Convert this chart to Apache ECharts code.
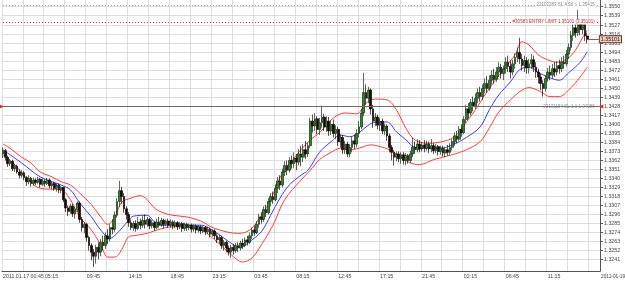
<!DOCTYPE html>
<html>
<head>
<meta charset="utf-8">
<script src="https://cdn.jsdelivr.net/npm/echarts@6/dist/echarts.min.js"></script>
<style>
  html, body { margin: 0; padding: 0; background: #fff; }
  #chart { width: 625px; height: 283px; }
</style>
</head>
<body>
<div id="chart"></div>
<script>
// EURUSD M15, 2011.01.17 00:45 .. 2011.01.19 15:30
const slotCount = 257; // 252 bars + chart shift on the right

const xTickLabels = ['2011.01.17 00:45', '05:15', '09:45', '14:15', '18:45', '23:15', '03:45',
    '08:15', '12:45', '17:15', '21:45', '02:15', '06:45', '11:15'];

const yTicks = [1.3241, 1.3252, 1.3263, 1.3274, 1.3285, 1.3296, 1.3307, 1.3318, 1.3329, 1.3340,
    1.3351, 1.3362, 1.3373, 1.3384, 1.3395, 1.3406, 1.3417, 1.3428, 1.3439, 1.3450, 1.3461,
    1.3472, 1.3483, 1.3494, 1.3505, 1.3516, 1.3527, 1.3539, 1.3550];

// [open, close, low, high]
const ohlc = [
    [1.3370, 1.3374, 1.3365, 1.3378], [1.3374, 1.3366, 1.3362, 1.3376], [1.3366, 1.3358, 1.3354, 1.3368],
    [1.3358, 1.3361, 1.3355, 1.3364], [1.3361, 1.3352, 1.3349, 1.3363], [1.3352, 1.3355, 1.3348, 1.3358],
    [1.3355, 1.3348, 1.3346, 1.3357], [1.3348, 1.3344, 1.3340, 1.3351], [1.3344, 1.3347, 1.3341, 1.3350],
    [1.3347, 1.3341, 1.3338, 1.3349], [1.3341, 1.3336, 1.3331, 1.3343], [1.3336, 1.3340, 1.3333, 1.3344],
    [1.3340, 1.3334, 1.3330, 1.3342], [1.3334, 1.3338, 1.3331, 1.3341], [1.3338, 1.3335, 1.3332, 1.3340],
    [1.3335, 1.3339, 1.3333, 1.3342], [1.3339, 1.3333, 1.3329, 1.3341], [1.3333, 1.3337, 1.3331, 1.3340],
    [1.3337, 1.3334, 1.3330, 1.3339], [1.3334, 1.3338, 1.3332, 1.3341], [1.3338, 1.3331, 1.3328, 1.3340],
    [1.3331, 1.3334, 1.3327, 1.3336], [1.3334, 1.3328, 1.3325, 1.3336], [1.3328, 1.3332, 1.3324, 1.3334],
    [1.3332, 1.3326, 1.3322, 1.3334], [1.3326, 1.3329, 1.3322, 1.3331], [1.3329, 1.3314, 1.3311, 1.3330],
    [1.3314, 1.3304, 1.3299, 1.3316], [1.3304, 1.3300, 1.3294, 1.3307], [1.3300, 1.3306, 1.3297, 1.3309],
    [1.3306, 1.3297, 1.3293, 1.3309], [1.3297, 1.3302, 1.3291, 1.3305], [1.3302, 1.3310, 1.3299, 1.3312],
    [1.3310, 1.3290, 1.3286, 1.3312], [1.3290, 1.3280, 1.3275, 1.3293], [1.3280, 1.3284, 1.3273, 1.3287],
    [1.3284, 1.3268, 1.3263, 1.3286], [1.3268, 1.3258, 1.3252, 1.3270], [1.3258, 1.3250, 1.3240, 1.3261],
    [1.3250, 1.3245, 1.3232, 1.3254], [1.3245, 1.3256, 1.3236, 1.3259], [1.3256, 1.3250, 1.3241, 1.3262],
    [1.3250, 1.3262, 1.3245, 1.3266], [1.3262, 1.3258, 1.3252, 1.3270], [1.3258, 1.3270, 1.3254, 1.3274],
    [1.3270, 1.3266, 1.3260, 1.3278], [1.3266, 1.3280, 1.3263, 1.3284], [1.3280, 1.3278, 1.3272, 1.3290],
    [1.3278, 1.3295, 1.3275, 1.3300], [1.3295, 1.3312, 1.3292, 1.3316], [1.3312, 1.3325, 1.3305, 1.3337],
    [1.3325, 1.3318, 1.3309, 1.3330], [1.3318, 1.3303, 1.3298, 1.3322], [1.3303, 1.3296, 1.3290, 1.3306],
    [1.3296, 1.3286, 1.3281, 1.3299], [1.3286, 1.3280, 1.3277, 1.3290], [1.3280, 1.3285, 1.3276, 1.3288],
    [1.3285, 1.3279, 1.3275, 1.3289], [1.3279, 1.3287, 1.3277, 1.3293], [1.3287, 1.3283, 1.3278, 1.3291],
    [1.3283, 1.3289, 1.3280, 1.3294], [1.3289, 1.3284, 1.3279, 1.3296], [1.3284, 1.3290, 1.3281, 1.3293],
    [1.3290, 1.3282, 1.3278, 1.3292], [1.3282, 1.3286, 1.3279, 1.3289], [1.3286, 1.3280, 1.3276, 1.3288],
    [1.3280, 1.3287, 1.3278, 1.3291], [1.3287, 1.3283, 1.3280, 1.3293], [1.3283, 1.3289, 1.3281, 1.3292],
    [1.3289, 1.3284, 1.3279, 1.3291], [1.3284, 1.3288, 1.3282, 1.3290], [1.3288, 1.3283, 1.3280, 1.3291],
    [1.3283, 1.3287, 1.3280, 1.3290], [1.3287, 1.3282, 1.3278, 1.3289], [1.3282, 1.3286, 1.3279, 1.3289],
    [1.3286, 1.3281, 1.3277, 1.3288], [1.3281, 1.3285, 1.3278, 1.3287], [1.3285, 1.3279, 1.3275, 1.3287],
    [1.3279, 1.3284, 1.3276, 1.3286], [1.3284, 1.3280, 1.3276, 1.3286], [1.3280, 1.3283, 1.3277, 1.3285],
    [1.3283, 1.3278, 1.3274, 1.3285], [1.3278, 1.3282, 1.3275, 1.3284], [1.3282, 1.3277, 1.3273, 1.3284],
    [1.3277, 1.3281, 1.3274, 1.3283], [1.3281, 1.3276, 1.3272, 1.3283], [1.3276, 1.3280, 1.3273, 1.3282],
    [1.3280, 1.3275, 1.3271, 1.3282], [1.3275, 1.3278, 1.3272, 1.3281], [1.3278, 1.3272, 1.3268, 1.3280],
    [1.3272, 1.3276, 1.3269, 1.3278], [1.3276, 1.3270, 1.3266, 1.3278], [1.3270, 1.3265, 1.3261, 1.3273],
    [1.3265, 1.3268, 1.3260, 1.3271], [1.3268, 1.3258, 1.3254, 1.3270], [1.3258, 1.3262, 1.3252, 1.3265],
    [1.3262, 1.3255, 1.3250, 1.3264], [1.3255, 1.3250, 1.3246, 1.3258], [1.3250, 1.3256, 1.3243, 1.3259],
    [1.3256, 1.3252, 1.3247, 1.3260], [1.3252, 1.3258, 1.3249, 1.3261], [1.3258, 1.3255, 1.3250, 1.3262],
    [1.3255, 1.3261, 1.3252, 1.3264], [1.3261, 1.3258, 1.3254, 1.3266], [1.3258, 1.3265, 1.3256, 1.3268],
    [1.3265, 1.3262, 1.3258, 1.3270], [1.3262, 1.3270, 1.3260, 1.3274], [1.3270, 1.3277, 1.3266, 1.3280],
    [1.3277, 1.3274, 1.3270, 1.3282], [1.3274, 1.3284, 1.3272, 1.3288], [1.3284, 1.3293, 1.3280, 1.3297],
    [1.3293, 1.3290, 1.3285, 1.3299], [1.3290, 1.3302, 1.3287, 1.3306], [1.3302, 1.3298, 1.3293, 1.3308],
    [1.3298, 1.3312, 1.3296, 1.3316], [1.3312, 1.3318, 1.3306, 1.3322], [1.3318, 1.3314, 1.3309, 1.3324],
    [1.3314, 1.3328, 1.3312, 1.3333], [1.3328, 1.3337, 1.3322, 1.3342], [1.3337, 1.3332, 1.3326, 1.3344],
    [1.3332, 1.3348, 1.3329, 1.3352], [1.3348, 1.3356, 1.3343, 1.3361], [1.3356, 1.3350, 1.3344, 1.3362],
    [1.3350, 1.3362, 1.3347, 1.3366], [1.3362, 1.3358, 1.3352, 1.3368], [1.3358, 1.3365, 1.3353, 1.3372],
    [1.3365, 1.3360, 1.3350, 1.3370], [1.3360, 1.3370, 1.3356, 1.3376], [1.3370, 1.3366, 1.3355, 1.3380],
    [1.3366, 1.3375, 1.3360, 1.3382], [1.3375, 1.3370, 1.3364, 1.3386], [1.3370, 1.3380, 1.3366, 1.3384],
    [1.3380, 1.3410, 1.3377, 1.3414], [1.3410, 1.3404, 1.3396, 1.3418], [1.3404, 1.3413, 1.3398, 1.3420],
    [1.3413, 1.3400, 1.3394, 1.3416], [1.3400, 1.3408, 1.3393, 1.3414], [1.3408, 1.3415, 1.3402, 1.3429],
    [1.3415, 1.3403, 1.3398, 1.3419], [1.3403, 1.3410, 1.3397, 1.3416], [1.3410, 1.3398, 1.3392, 1.3415],
    [1.3398, 1.3406, 1.3393, 1.3411], [1.3406, 1.3395, 1.3390, 1.3412], [1.3395, 1.3400, 1.3388, 1.3405],
    [1.3400, 1.3385, 1.3380, 1.3403], [1.3385, 1.3390, 1.3378, 1.3394], [1.3390, 1.3375, 1.3370, 1.3393],
    [1.3375, 1.3382, 1.3370, 1.3386], [1.3382, 1.3370, 1.3366, 1.3385], [1.3370, 1.3378, 1.3366, 1.3382],
    [1.3378, 1.3386, 1.3372, 1.3391], [1.3386, 1.3382, 1.3376, 1.3394], [1.3382, 1.3395, 1.3378, 1.3400],
    [1.3395, 1.3403, 1.3390, 1.3410], [1.3403, 1.3420, 1.3400, 1.3425], [1.3420, 1.3445, 1.3416, 1.3469],
    [1.3445, 1.3438, 1.3430, 1.3455], [1.3438, 1.3448, 1.3432, 1.3452], [1.3448, 1.3425, 1.3418, 1.3450],
    [1.3425, 1.3410, 1.3402, 1.3430], [1.3410, 1.3415, 1.3404, 1.3420], [1.3415, 1.3405, 1.3400, 1.3418],
    [1.3405, 1.3410, 1.3398, 1.3414], [1.3410, 1.3398, 1.3394, 1.3413], [1.3398, 1.3404, 1.3393, 1.3407],
    [1.3404, 1.3392, 1.3386, 1.3406], [1.3392, 1.3378, 1.3372, 1.3395], [1.3378, 1.3372, 1.3362, 1.3381],
    [1.3372, 1.3366, 1.3356, 1.3375], [1.3366, 1.3370, 1.3361, 1.3373], [1.3370, 1.3364, 1.3360, 1.3373],
    [1.3364, 1.3369, 1.3358, 1.3372], [1.3369, 1.3362, 1.3357, 1.3372], [1.3362, 1.3368, 1.3356, 1.3371],
    [1.3368, 1.3362, 1.3358, 1.3370], [1.3362, 1.3370, 1.3359, 1.3374], [1.3370, 1.3378, 1.3366, 1.3390],
    [1.3378, 1.3375, 1.3370, 1.3385], [1.3375, 1.3382, 1.3372, 1.3388], [1.3382, 1.3376, 1.3372, 1.3387],
    [1.3376, 1.3381, 1.3373, 1.3385], [1.3381, 1.3377, 1.3372, 1.3387], [1.3377, 1.3382, 1.3374, 1.3386],
    [1.3382, 1.3376, 1.3371, 1.3385], [1.3376, 1.3380, 1.3372, 1.3388], [1.3380, 1.3374, 1.3370, 1.3383],
    [1.3374, 1.3379, 1.3371, 1.3382], [1.3379, 1.3373, 1.3368, 1.3381], [1.3373, 1.3377, 1.3369, 1.3380],
    [1.3377, 1.3371, 1.3367, 1.3380], [1.3371, 1.3375, 1.3366, 1.3378], [1.3375, 1.3372, 1.3368, 1.3381],
    [1.3372, 1.3378, 1.3369, 1.3383], [1.3378, 1.3385, 1.3374, 1.3388], [1.3385, 1.3392, 1.3380, 1.3396],
    [1.3392, 1.3388, 1.3383, 1.3398], [1.3388, 1.3400, 1.3386, 1.3404], [1.3400, 1.3396, 1.3391, 1.3406],
    [1.3396, 1.3412, 1.3394, 1.3416], [1.3412, 1.3425, 1.3408, 1.3430], [1.3425, 1.3420, 1.3413, 1.3432],
    [1.3420, 1.3433, 1.3417, 1.3437], [1.3433, 1.3428, 1.3422, 1.3440], [1.3428, 1.3438, 1.3425, 1.3444],
    [1.3438, 1.3445, 1.3432, 1.3450], [1.3445, 1.3440, 1.3434, 1.3452], [1.3440, 1.3450, 1.3436, 1.3455],
    [1.3450, 1.3456, 1.3444, 1.3462], [1.3456, 1.3450, 1.3445, 1.3465], [1.3450, 1.3460, 1.3447, 1.3466],
    [1.3460, 1.3466, 1.3455, 1.3472], [1.3466, 1.3461, 1.3456, 1.3474], [1.3461, 1.3470, 1.3458, 1.3476],
    [1.3470, 1.3476, 1.3464, 1.3482], [1.3476, 1.3468, 1.3462, 1.3480], [1.3468, 1.3474, 1.3460, 1.3478],
    [1.3474, 1.3482, 1.3468, 1.3488], [1.3482, 1.3477, 1.3470, 1.3490], [1.3477, 1.3470, 1.3462, 1.3484],
    [1.3470, 1.3480, 1.3466, 1.3485], [1.3480, 1.3488, 1.3474, 1.3493], [1.3488, 1.3494, 1.3482, 1.3500],
    [1.3494, 1.3486, 1.3480, 1.3512], [1.3486, 1.3478, 1.3472, 1.3492], [1.3478, 1.3484, 1.3470, 1.3490],
    [1.3484, 1.3475, 1.3468, 1.3488], [1.3475, 1.3480, 1.3468, 1.3486], [1.3480, 1.3485, 1.3474, 1.3492],
    [1.3485, 1.3476, 1.3470, 1.3490], [1.3476, 1.3470, 1.3463, 1.3482], [1.3470, 1.3464, 1.3456, 1.3474],
    [1.3464, 1.3456, 1.3448, 1.3468], [1.3456, 1.3450, 1.3440, 1.3460], [1.3450, 1.3462, 1.3446, 1.3466],
    [1.3462, 1.3470, 1.3458, 1.3475], [1.3470, 1.3466, 1.3460, 1.3478], [1.3466, 1.3474, 1.3462, 1.3480],
    [1.3474, 1.3470, 1.3464, 1.3482], [1.3470, 1.3478, 1.3466, 1.3483], [1.3478, 1.3474, 1.3468, 1.3485],
    [1.3474, 1.3482, 1.3470, 1.3488], [1.3482, 1.3480, 1.3474, 1.3490], [1.3480, 1.3492, 1.3477, 1.3497],
    [1.3492, 1.3500, 1.3486, 1.3505], [1.3500, 1.3515, 1.3496, 1.3520], [1.3515, 1.3524, 1.3508, 1.3530],
    [1.3524, 1.3518, 1.3512, 1.3532], [1.3518, 1.3530, 1.3514, 1.3546], [1.3530, 1.3522, 1.3515, 1.3535],
    [1.3522, 1.3528, 1.3516, 1.3533], [1.3528, 1.3514, 1.3508, 1.3532], [1.3514, 1.3510, 1.3505, 1.3518]
];

// band readings as [bar index, price]
const upperBand = [[0, 1.3382], [3, 1.3377], [8, 1.3366], [12, 1.3359], [16, 1.3348], [21, 1.3342],
    [25, 1.3336], [29, 1.3332], [33, 1.3322], [38, 1.3308], [42, 1.3293], [45, 1.3284], [48, 1.3293],
    [51, 1.3311], [55, 1.3316], [59, 1.3319], [62, 1.3314], [65, 1.3304], [68, 1.3299], [73, 1.3295],
    [79, 1.3293], [85, 1.3288], [91, 1.3279], [101, 1.3273], [106, 1.3277], [111, 1.3295], [115, 1.3314],
    [119, 1.3341], [123, 1.3357], [128, 1.3375], [132, 1.3387], [136, 1.3396], [142, 1.3414], [147, 1.3420],
    [152, 1.3419], [156, 1.3432], [160, 1.3437], [165, 1.3436], [169, 1.3424], [173, 1.3402], [177, 1.3387],
    [183, 1.3383], [190, 1.3386], [194, 1.3391], [198, 1.3405], [203, 1.3424], [207, 1.3442], [211, 1.3458],
    [215, 1.3473], [220, 1.3491], [223, 1.3507], [226, 1.3503], [230, 1.3491], [234, 1.3485], [238, 1.3482],
    [242, 1.3485], [246, 1.3497], [249, 1.3512], [251, 1.3521]];

const middleBand = [[0, 1.3375], [8, 1.3359], [16, 1.3342], [25, 1.3332], [29, 1.3326], [33, 1.3310],
    [38, 1.3293], [42, 1.3277], [46, 1.3267], [49, 1.3273], [54, 1.3289], [56, 1.3294], [62, 1.3295],
    [65, 1.3287], [68, 1.3283], [85, 1.3283], [91, 1.3275], [98, 1.3261], [102, 1.3256], [106, 1.3263],
    [111, 1.3275], [115, 1.3295], [119, 1.3316], [123, 1.3332], [128, 1.3344], [131, 1.3350], [136, 1.3372],
    [141, 1.3385], [145, 1.3393], [149, 1.3391], [153, 1.3396], [156, 1.3403], [159, 1.3408], [165, 1.3409],
    [169, 1.3397], [174, 1.3385], [176, 1.3379], [182, 1.3377], [188, 1.3377], [193, 1.3381], [199, 1.3390],
    [205, 1.3403], [209, 1.3424], [213, 1.3442], [218, 1.3458], [222, 1.3473], [226, 1.3476], [231, 1.3468],
    [235, 1.3463], [239, 1.3460], [243, 1.3469], [248, 1.3482], [251, 1.3495]];

const lowerBand = [[0, 1.3369], [5, 1.3357], [11, 1.3338], [16, 1.3328], [25, 1.3326], [29, 1.3314],
    [33, 1.3293], [38, 1.3277], [42, 1.3259], [45, 1.3244], [48, 1.3244], [51, 1.3253], [54, 1.3269],
    [56, 1.3270], [62, 1.3273], [66, 1.3277], [73, 1.3281], [85, 1.3277], [91, 1.3265], [98, 1.3247],
    [103, 1.3238], [107, 1.3243], [111, 1.3259], [116, 1.3283], [121, 1.3314], [128, 1.3338], [132, 1.3350],
    [136, 1.3363], [141, 1.3372], [145, 1.3377], [149, 1.3375], [153, 1.3377], [158, 1.3381], [162, 1.3379],
    [166, 1.3375], [171, 1.3366], [175, 1.3359], [179, 1.3357], [185, 1.3363], [193, 1.3369], [199, 1.3375],
    [205, 1.3385], [209, 1.3402], [213, 1.3421], [218, 1.3436], [222, 1.3446], [226, 1.3451], [231, 1.3446],
    [235, 1.3440], [239, 1.3440], [243, 1.3448], [248, 1.3464], [251, 1.3476]];

// order / stop levels drawn as horizontal lines
const levelPrices = [1.3552, 1.3531, 1.3428];
const levelTexts = ['22102283 SL ASK \u2265 1.35415', '#30583 ENTRY LIMIT 1.35101 (1.35101)', '22131154 SL 1.1 1.34286'];
const bidPrice = 1.35101;

const categories = [];
for (let i = 0; i < slotCount; i++) categories.push(String(i));

const gridColor = '#dedede';
const textColor = '#444';
const font = 'Liberation Sans';
const small = 5.3;
const lastSlot = slotCount - 1;

const lineSeries = (name, data, color) => ({
    name: name,
    type: 'line',
    data: data,
    symbol: 'none',
    smooth: 0.35,
    silent: true,
    z: 3,
    lineStyle: { color: color, width: 1 }
});

const levelLine = (i, color, type, textFill, masked) => [
    { coord: [0, levelPrices[i]], lineStyle: { color: color, type: type, width: 1 } },
    {
        coord: [lastSlot, levelPrices[i]],
        label: {
            show: true, position: 'insideEnd', formatter: levelTexts[i],
            fontSize: 4.5, fontFamily: font, color: textFill, distance: 3,
            backgroundColor: masked ? '#fff' : 'transparent', padding: [0, 1]
        }
    }
];

const upper = lineSeries('upper', upperBand, '#ff3a3a');
upper.markLine = {
    silent: true,
    symbol: 'none',
    animation: false,
    data: [
        levelLine(0, '#a8a8a8', [1, 2], '#888', true),
        levelLine(1, '#e03030', [1, 2], '#d02020', true),
        levelLine(2, '#6a6a6a', 'solid', '#8a8a8a', false),
        [
            { coord: [ohlc.length - 1, bidPrice], lineStyle: { color: '#8a6050', width: 1, type: 'solid' } },
            {
                coord: [lastSlot, bidPrice],
                label: {
                    show: true, position: 'end', formatter: bidPrice.toFixed(5),
                    fontSize: small, fontFamily: font, color: '#222',
                    backgroundColor: '#f3c9b8', borderColor: '#6b3a2a', borderWidth: 1,
                    padding: [1, 1, 0, 1], distance: 1
                }
            }
        ]
    ]
};
upper.markPoint = {
    silent: true,
    animation: false,
    symbol: 'triangle',
    symbolSize: [4, 5],
    itemStyle: { color: '#d83030' },
    label: { show: false },
    data: [
        { coord: [0, levelPrices[2]], symbolRotate: -90, symbolOffset: [-1, 0] },
        { coord: [lastSlot, levelPrices[2]], symbolRotate: 90, symbolOffset: [2, 0] }
    ]
};

const chart = echarts.init(document.getElementById('chart'), null, { renderer: 'canvas' });
chart.setOption({
    animation: false,
    backgroundColor: '#fff',
    grid: { left: 0, right: 25, top: 0, bottom: 12 },
    xAxis: {
        type: 'category',
        data: categories,
        boundaryGap: true,
        axisLine: { lineStyle: { color: '#555' } },
        axisTick: { interval: 17, alignWithLabel: true, length: 3, lineStyle: { color: '#555' } },
        axisLabel: {
            interval: 17,
            align: 'left',
            margin: 3,
            fontSize: small,
            fontFamily: font,
            color: textColor,
            hideOverlap: false,
            showMinLabel: true,
            formatter: (v, idx) => xTickLabels[Math.round(idx / 18)] || ''
        },
        splitLine: { show: true, interval: 8, lineStyle: { color: gridColor, width: 1 } }
    },
    yAxis: {
        type: 'value',
        position: 'right',
        min: 1.3227,
        max: 1.3558,
        scale: true,
        axisLine: { show: true, lineStyle: { color: '#555' } },
        axisTick: { show: true, customValues: yTicks, length: 3, lineStyle: { color: '#555' } },
        axisLabel: {
            customValues: yTicks,
            margin: 4,
            fontSize: small,
            fontFamily: font,
            color: textColor,
            formatter: (v) => v.toFixed(4)
        },
        splitLine: { show: true, lineStyle: { color: gridColor, width: 1 } }
    },
    series: [
        {
            type: 'candlestick',
            data: ohlc,
            barWidth: 2.2,
            z: 4,
            itemStyle: {
                color: '#238c23',
                color0: '#1c0606',
                borderColor: '#1a2e1a',
                borderColor0: '#160404',
                borderWidth: 0.7
            }
        },
        upper,
        lineSeries('middle', middleBand, '#3a3aff'),
        lineSeries('lower', lowerBand, '#ff3a3a')
    ],
    graphic: [
        {
            type: 'text',
            left: 601,
            top: 274,
            style: { text: '2011-01-19 15:30', fontSize: 4.8, fontFamily: font, fill: textColor }
        }
    ]
});
</script>
</body>
</html>
